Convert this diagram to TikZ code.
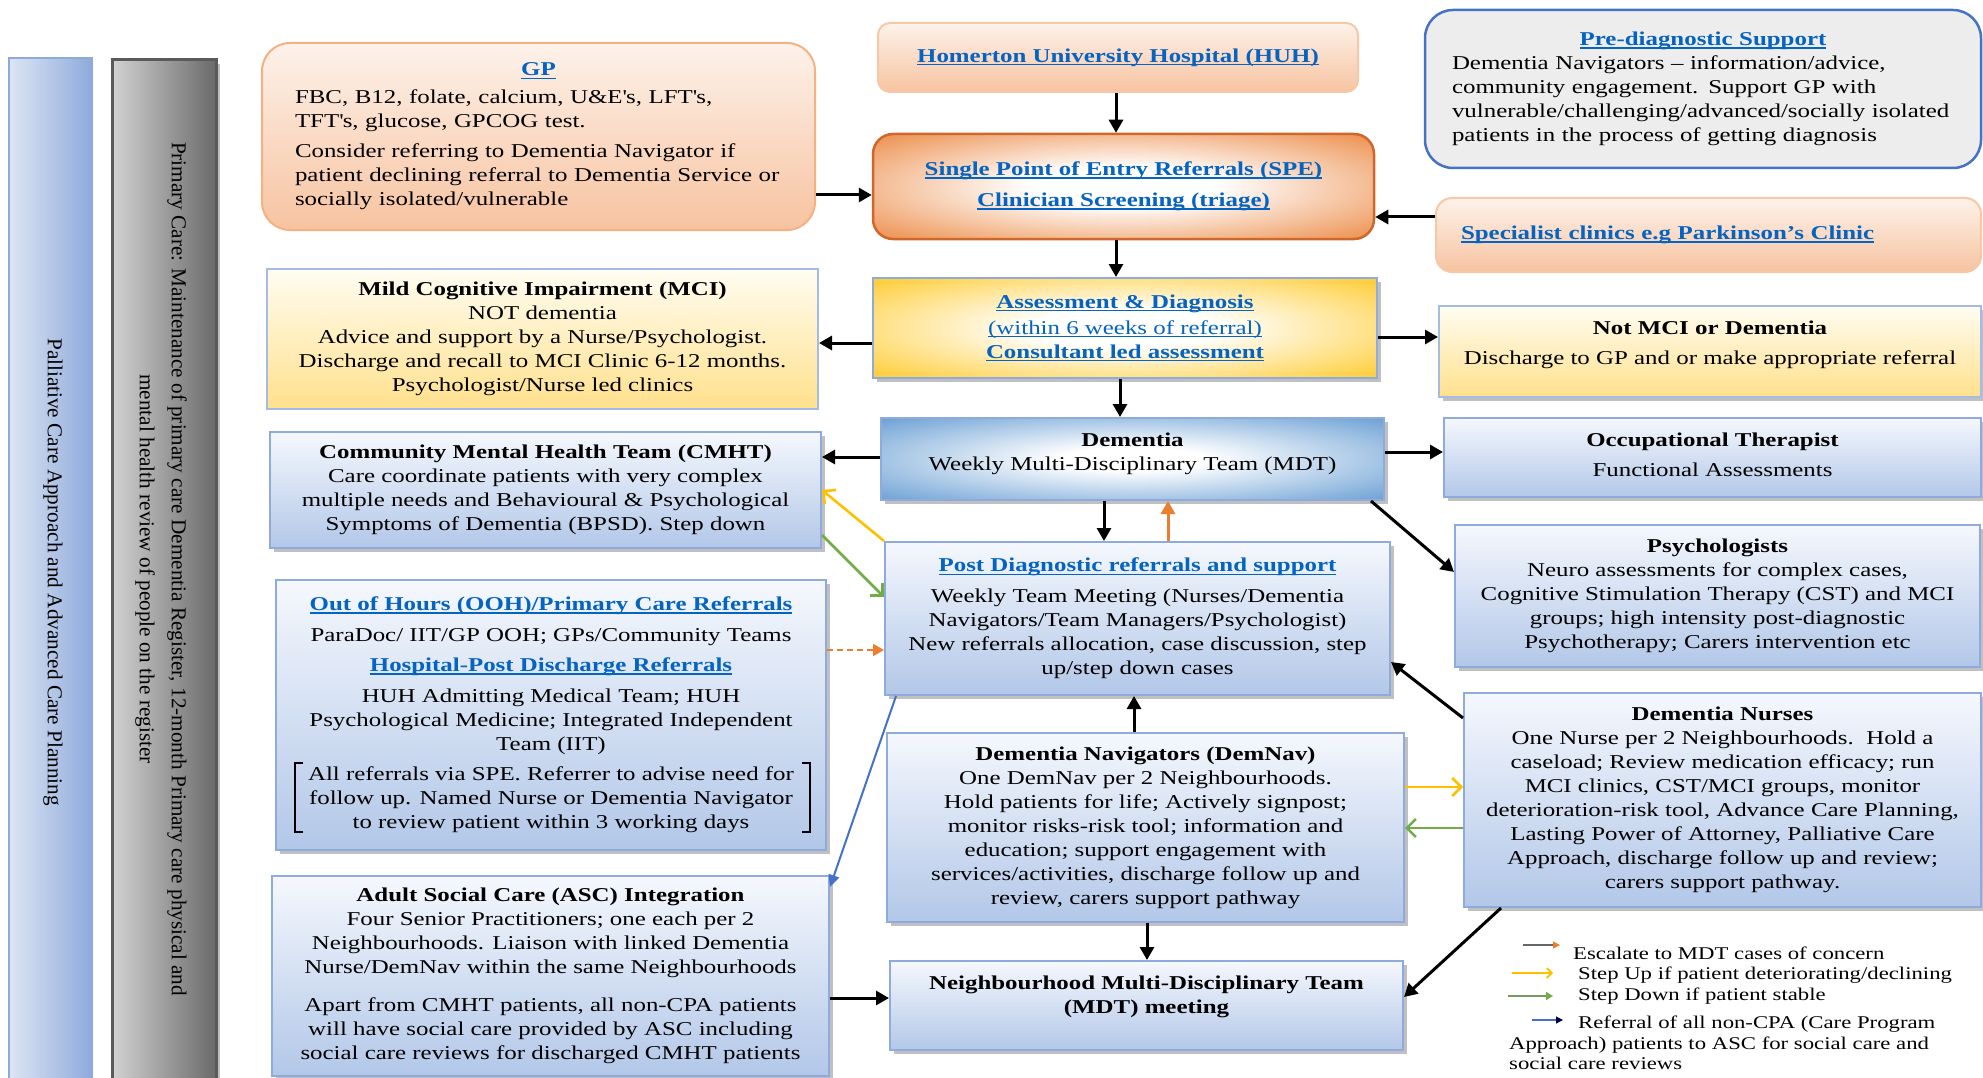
\documentclass[tikz,border=0pt]{standalone}
\usepackage{fontspec}
\setmainfont{Liberation Serif}[FakeStretch=1.27]
\newfontfamily\rotfont{Liberation Serif}
\usetikzlibrary{arrows.meta,shadows,calc}
\definecolor{linkblue}{HTML}{0563C1}
\definecolor{peachtop}{HTML}{FDF2EA}
\definecolor{peachbot}{HTML}{F7C3A0}
\definecolor{peachborder}{HTML}{F4B183}
\definecolor{speorange}{HTML}{E8721F}
\definecolor{speborder}{HTML}{D0672A}
\definecolor{goldc}{HTML}{FFBF00}
\definecolor{mdtblue}{HTML}{4A8BCB}
\definecolor{bluetop}{HTML}{F5F8FD}
\definecolor{bluebot}{HTML}{B2C7E8}
\definecolor{boxborder}{HTML}{8FAADC}
\definecolor{yeltop}{HTML}{FFFDF2}
\definecolor{yelbot}{HTML}{FFE08C}
\definecolor{prefill}{HTML}{EDEDED}
\definecolor{preborder}{HTML}{4472C4}
\definecolor{stepup}{HTML}{FFC000}
\definecolor{stepdown}{HTML}{70AD47}
\definecolor{escal}{HTML}{ED7D31}
\definecolor{refblue}{HTML}{4472C4}
\definecolor{palleft}{HTML}{DDE5F4}
\definecolor{palright}{HTML}{8EAADB}
\definecolor{graylight}{HTML}{D2D2D2}
\definecolor{graydark}{HTML}{6A6A6A}
\pgfdeclareradialshading{speshade}{\pgfpoint{0bp}{0bp}}{color(0bp)=(white); color(9bp)=(white); color(42bp)=(speorange); color(50bp)=(speorange)}
\pgfdeclareradialshading{goldshade}{\pgfpoint{0bp}{0bp}}{color(0bp)=(white); color(9bp)=(white); color(42bp)=(goldc); color(50bp)=(goldc)}
\pgfdeclareradialshading{mdtshade}{\pgfpoint{0bp}{0bp}}{color(0bp)=(white); color(7bp)=(white); color(42bp)=(mdtblue); color(50bp)=(mdtblue)}
\newcommand\lk[1]{\textcolor{linkblue}{\setbox0\hbox{#1}\rlap{\rule[-3pt]{\wd0}{1.3pt}}\box0}}
\newcommand\q{\textquotesingle}
\tikzset{
  base/.style={font=\fontsize{19.6}{24}\selectfont, align=center, inner sep=0pt},
  shad/.style={drop shadow={shadow xshift=4pt, shadow yshift=-4pt, fill=black!45, opacity=0.55}},
  bluebox/.style={base, draw=boxborder, line width=2pt, top color=bluetop, bottom color=bluebot, shad},
  yelbox/.style={base, draw=boxborder!80, line width=2pt, top color=yeltop, bottom color=yelbot},
  peachbox/.style={base, draw=peachborder, line width=2pt, top color=peachtop, bottom color=peachbot},
  arr/.style={-{Triangle[length=13pt,width=14pt]}, line width=3pt},
  oarr/.style={-{Triangle[length=13pt,width=14pt]}, line width=3pt, color=escal},
  odash/.style={-{Triangle[length=11pt,width=12pt]}, line width=2pt, color=escal, dash pattern=on 6pt off 4pt},
  yarr/.style={-{Straight Barb[length=9pt,width=18pt]}, line width=2.6pt, color=stepup},
  garr/.style={-{Straight Barb[length=9pt,width=18pt]}, line width=2.6pt, color=stepdown},
  barr/.style={-{Triangle[length=12pt,width=11pt]}, line width=2pt, color=refblue},
  legtext/.style={font=\fontsize{17.9}{20.5}\selectfont, inner sep=0pt, anchor=west},
}
\begin{document}
\begin{tikzpicture}[x=1pt,y=-1pt]
\useasboundingbox (0,0) rectangle (1983,1078);
\clip (0,0) rectangle (1983,1078);

% side bars
\node[draw=palright, line width=2pt, left color=palleft, right color=palright, minimum width=83pt, minimum height=1040pt, inner sep=0pt] (palbar) at (50.5,578) {};
\node[draw=graydark!85!black, line width=3pt, left color=graylight, right color=graydark, minimum width=104pt, minimum height=1040pt, inner sep=0pt, shad] (graybar) at (164,580) {};
\node[rotate=-90, inner sep=0pt, font=\rotfont\fontsize{21.2}{26}\selectfont] (paltext) at (53,572) {Palliative Care Approach and Advanced Care Planning};
\node[rotate=-90, inner sep=0pt, align=center, font=\rotfont\fontsize{21.2}{32}\selectfont] (graytext) at (161,569) {Primary Care: Maintenance of primary care Dementia Register, 12-month Primary care physical and\\mental health review of people on the register};

% top row
\node[peachbox, rounded corners=28pt, minimum width=553pt, minimum height=187pt, text width=487pt, align=left] (gp) at (538.5,136.5)
 {\makebox[\linewidth][c]{\lk{\textbf{GP}}}\\[4pt]
  FBC, B12, folate, calcium, U\&E\q s, LFT\q s,\\
  TFT\q s, glucose, GPCOG test.\\[6pt]
  Consider referring to Dementia Navigator if\\
  patient declining referral to Dementia Service or\\
  socially isolated/vulnerable};
\node[peachbox, draw=peachborder!70, rounded corners=12pt, minimum width=480pt, minimum height=69pt] (huh) at (1118,57.5)
 {\lk{\textbf{Homerton University Hospital (HUH)}}};
\node[base, draw=speborder, line width=2.5pt, shading=speshade, rounded corners=20pt, minimum width=501pt, minimum height=105pt] (spe) at (1123.5,186.5)
 {\lk{\textbf{Single Point of Entry Referrals (SPE)}}\\[7pt]\lk{\textbf{Clinician Screening (triage)}}};
\node[base, draw=preborder, line width=2.5pt, fill=prefill, rounded corners=28pt, minimum width=556pt, minimum height=158pt, text width=502pt, align=left] (pre) at (1703,89)
 {\makebox[\linewidth][c]{\lk{\textbf{Pre-diagnostic Support}}}\\
  Dementia Navigators – information/advice,\\
  community engagement. Support GP with\\
  vulnerable/challenging/advanced/socially isolated\\
  patients in the process of getting diagnosis};
\node[peachbox, draw=peachborder!70, rounded corners=16pt, minimum width=545pt, minimum height=74pt, text width=495pt, align=left] (spec) at (1708.5,235)
 {\lk{\textbf{Specialist clinics e.g Parkinson’s Clinic}}};

% assessment row
\node[base, draw=boxborder, line width=2pt, shading=goldshade, shad, minimum width=504pt, minimum height=100pt] (assess) at (1125,328)
 {\lk{\textbf{Assessment \& Diagnosis}}\\[2pt]\lk{(within 6 weeks of referral)}\\\lk{\textbf{Consultant led assessment}}};
\node[yelbox, minimum width=551pt, minimum height=140pt] (mci) at (542.5,339)
 {\textbf{Mild Cognitive Impairment (MCI)}\\NOT dementia\\Advice and support by a Nurse/Psychologist.\\Discharge and recall to MCI Clinic 6-12 months.\\Psychologist/Nurse led clinics};
\node[yelbox, shad, minimum width=542pt, minimum height=91pt] (notmci) at (1710,351.5) {};
\node[base] (notmcitext) at ($(notmci.center)+(0,-7)$)
 {\textbf{Not MCI or Dementia}\\[6pt]Discharge to GP and or make appropriate referral};

% MDT row
\node[bluebox, minimum width=551pt, minimum height=116pt] (cmht) at (545.5,490)
 {\textbf{Community Mental Health Team (CMHT)}\\Care coordinate patients with very complex\\multiple needs and Behavioural \& Psychological\\Symptoms of Dementia (BPSD). Step down};
\node[base, draw=boxborder, line width=2pt, shading=mdtshade, shad, minimum width=503pt, minimum height=82pt] (mdt) at (1132.5,459) {};
\node[base] (mdttext) at ($(mdt.center)+(0,-5)$) {\textbf{Dementia}\\Weekly Multi-Disciplinary Team (MDT)};
\node[bluebox, minimum width=537pt, minimum height=79pt] (ot) at (1712.5,457.5) {};
\node[base] (ottext) at ($(ot.center)+(0,-3)$) {\textbf{Occupational Therapist}\\[6pt]Functional Assessments};
\node[bluebox, minimum width=525pt, minimum height=142pt] (psych) at (1717.5,596)
 {\textbf{Psychologists}\\Neuro assessments for complex cases,\\Cognitive Stimulation Therapy (CST) and MCI\\groups; high intensity post-diagnostic\\Psychotherapy; Carers intervention etc};
\node[bluebox, minimum width=505pt, minimum height=153pt] (post) at (1137.5,618.5)
 {\lk{\textbf{Post Diagnostic referrals and support}}\\[7pt]Weekly Team Meeting (Nurses/Dementia\\Navigators/Team Managers/Psychologist)\\New referrals allocation, case discussion, step\\up/step down cases};
\node[bluebox, minimum width=550pt, minimum height=270pt] (ooh) at (551,715)
 {\lk{\textbf{Out of Hours (OOH)/Primary Care Referrals}}\\[7pt]ParaDoc/ IIT/GP OOH; GPs/Community Teams\\[6pt]\lk{\textbf{Hospital-Post Discharge Referrals}}\\[7pt]HUH Admitting Medical Team; HUH\\Psychological Medicine; Integrated Independent\\Team (IIT)\\[6pt]All referrals via SPE. Referrer to advise need for\\follow up. Named Nurse or Dementia Navigator\\to review patient within 3 working days};
\draw[line width=1.3pt] ($(ooh.west)+(28,48)$) -- ($(ooh.west)+(20,48)$) -- ($(ooh.west)+(20,117)$) -- ($(ooh.west)+(28,117)$);
\draw[line width=1.3pt] ($(ooh.east)+(-25,48)$) -- ($(ooh.east)+(-17,48)$) -- ($(ooh.east)+(-17,117)$) -- ($(ooh.east)+(-25,117)$);
\node[bluebox, minimum width=517pt, minimum height=189pt] (demnav) at (1145.5,827.5)
 {\textbf{Dementia Navigators (DemNav)}\\One DemNav per 2 Neighbourhoods.\\Hold patients for life; Actively signpost;\\monitor risks-risk tool; information and\\education; support engagement with\\services/activities, discharge follow up and\\review, carers support pathway};
\node[bluebox, minimum width=517pt, minimum height=214pt] (nurses) at (1722.5,800)
 {\textbf{Dementia Nurses}\\One Nurse per 2 Neighbourhoods.\ \ Hold a\\caseload; Review medication efficacy; run\\MCI clinics, CST/MCI groups, monitor\\deterioration-risk tool, Advance Care Planning,\\Lasting Power of Attorney, Palliative Care\\Approach, discharge follow up and review;\\carers support pathway.};
\node[bluebox, minimum width=557pt, minimum height=200pt] (asc) at (550.5,976)
 {\textbf{Adult Social Care (ASC) Integration}\\Four Senior Practitioners; one each per 2\\Neighbourhoods. Liaison with linked Dementia\\Nurse/DemNav within the same Neighbourhoods\\[14pt]Apart from CMHT patients, all non-CPA patients\\will have social care provided by ASC including\\social care reviews for discharged CMHT patients};
\node[bluebox, minimum width=513pt, minimum height=89pt] (nmdt) at (1146.5,1005.5) {};
\node[base] (nmdttext) at ($(nmdt.center)+(0,-9)$) {\textbf{Neighbourhood Multi-Disciplinary Team}\\\textbf{(MDT) meeting}};

% connectors
\draw[arr] (1116,0 |- huh.south) -- (1116,0 |- spe.north);
\draw[arr] (1116,0 |- spe.south) -- (1116,0 |- assess.north);
\draw[arr] (gp.east |- 0,195) -- (spe.west |- 0,195);
\draw[arr] (spec.west |- 0,217) -- (spe.east |- 0,217);
\draw[arr] (assess.west |- 0,343) -- (mci.east |- 0,343);
\draw[arr] (assess.east |- 0,337) -- (notmci.west |- 0,337);
\draw[arr] (1120,0 |- assess.south) -- (1120,0 |- mdt.north);
\draw[arr] (mdt.west |- 0,457) -- (cmht.east |- 0,457);
\draw[arr] (mdt.east |- 0,452) -- (ot.west |- 0,452);
\draw[arr] (1371,0 |- mdt.south) -- (psych.west |- 0,572);
\draw[arr] (1104,0 |- mdt.south) -- (1104,0 |- post.north);
\draw[oarr] (1168,0 |- post.north) -- (1168,0 |- mdt.south);
\draw[yarr] (post.north west) -- (cmht.east |- 0,490);
\draw[garr] (cmht.east |- 0,535) -- (post.west |- 0,597);
\draw[odash] (ooh.east |- 0,650) -- (post.west |- 0,650);
\draw[barr] (896,0 |- post.south) -- (asc.east |- 0,887);
\draw[arr] (1134,0 |- demnav.north) -- (1134,0 |- post.south);
\draw[arr] (nurses.west |- 0,718) -- (post.east |- 0,662);
\draw[yarr] (demnav.east |- 0,787) -- (nurses.west |- 0,787);
\draw[garr] (nurses.west |- 0,828) -- (demnav.east |- 0,828);
\draw[arr] (1147,0 |- demnav.south) -- (1147,0 |- nmdt.north);
\draw[arr] (asc.east |- 0,998) -- (nmdt.west |- 0,998);
\draw[arr] (1501,0 |- nurses.south) -- (nmdt.east |- 0,997);

% legend
\coordinate (l1a) at (1523,945); \coordinate (l1b) at (1560,945);
\coordinate (l2a) at (1512,973); \coordinate (l2b) at (1553,973);
\coordinate (l3a) at (1508,996); \coordinate (l3b) at (1553,996);
\coordinate (l4a) at (1532,1020); \coordinate (l4b) at (1563,1020);
\draw[line width=1.2pt, color=gray!80!black, -{Triangle[length=7pt,width=7pt,color=escal]}] (l1a) -- (l1b);
\draw[line width=1.8pt, color=stepup, -{Straight Barb[length=5pt,width=10pt]}] (l2a) -- (l2b);
\draw[line width=1.8pt, color=stepdown!60!gray, -{Triangle[length=7pt,width=8pt,color=stepdown]}] (l3a) -- (l3b);
\draw[line width=1.2pt, color=refblue, -{Triangle[length=7pt,width=7pt,color=black!70!blue]}] (l4a) -- (l4b);
\node[legtext] (leg1) at (1573,953) {Escalate to MDT cases of concern};
\node[legtext] (leg2) at (1578,975) {Step Up if patient deteriorating/declining};
\node[legtext] (leg3) at (1578,996) {Step Down if patient stable};
\node[legtext, anchor=north west, align=left] (leg4) at (1509,1016) {\hspace*{69pt}Referral of all non-CPA (Care Program\\Approach) patients to ASC for social care and\\social care reviews};
\end{tikzpicture}
\end{document}
